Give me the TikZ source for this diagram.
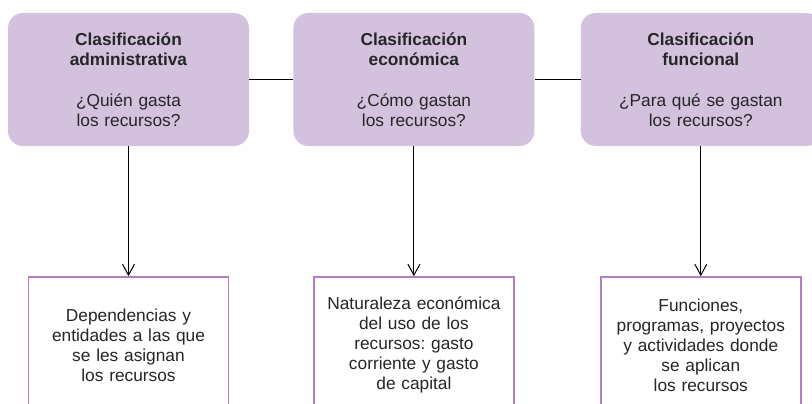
\documentclass[tikz,border=0pt]{standalone}
\usepackage{fontspec}
\setmainfont{Liberation Sans}
\usetikzlibrary{positioning,arrows.meta}
\definecolor{lila}{HTML}{D4C1DE}
\definecolor{lilaborde}{HTML}{B47CC3}
\definecolor{texto}{HTML}{262626}
\frenchspacing
\begin{document}
\begin{tikzpicture}[x=1pt, y=1pt, >={Straight Barb[length=11pt,width=12pt]},
    clase/.style={fill=lila, rounded corners=15pt, minimum width=241pt, minimum height=133pt,
        inner sep=0pt, text width=230pt, align=center, text=texto, font=\fontsize{17.3}{20}\selectfont},
    detalle/.style={draw=lilaborde, line width=1.4pt, fill=white, minimum width=200pt, minimum height=136pt,
        inner sep=0pt, text width=190pt, align=center, text=texto, font=\fontsize{17.3}{20}\selectfont}]
    \useasboundingbox (0,0) rectangle (812,-404);
    \clip (0,0) rectangle (812,-404);
    \node[clase] (adm) at (128.5,-79.5) {\textbf{Clasificación}\\\textbf{administrativa}\\[20.5pt]¿Quién gasta\\los recursos?};
    \node[clase, right=44pt of adm] (eco) {\textbf{Clasificación}\\\textbf{económica}\\[20.5pt]¿Cómo gastan\\los recursos?};
    \node[clase, right=46pt of eco, minimum width=240pt] (fun) {\textbf{Clasificación}\\\textbf{funcional}\\[20.5pt]¿Para qué se gastan\\los recursos?};
    \node[detalle, below=130pt of adm] (dep) {Dependencias y\\entidades a las que\\se les asignan\\los recursos};
    \node[detalle, below=130pt of eco] (nat) {Naturaleza económica\\del uso de los\\recursos: gasto\\corriente y gasto\\de capital};
    \node[detalle, below=130pt of fun] (pro) {Funciones,\\programas, proyectos\\y actividades donde\\se aplican\\los recursos};
    \draw[line width=1pt] (adm) -- (eco) (eco) -- (fun);
    \draw[->, line width=1pt] (adm) -- (dep);
    \draw[->, line width=1pt] (eco) -- (nat);
    \draw[->, line width=1pt] (fun) -- (pro);
\end{tikzpicture}
\end{document}
